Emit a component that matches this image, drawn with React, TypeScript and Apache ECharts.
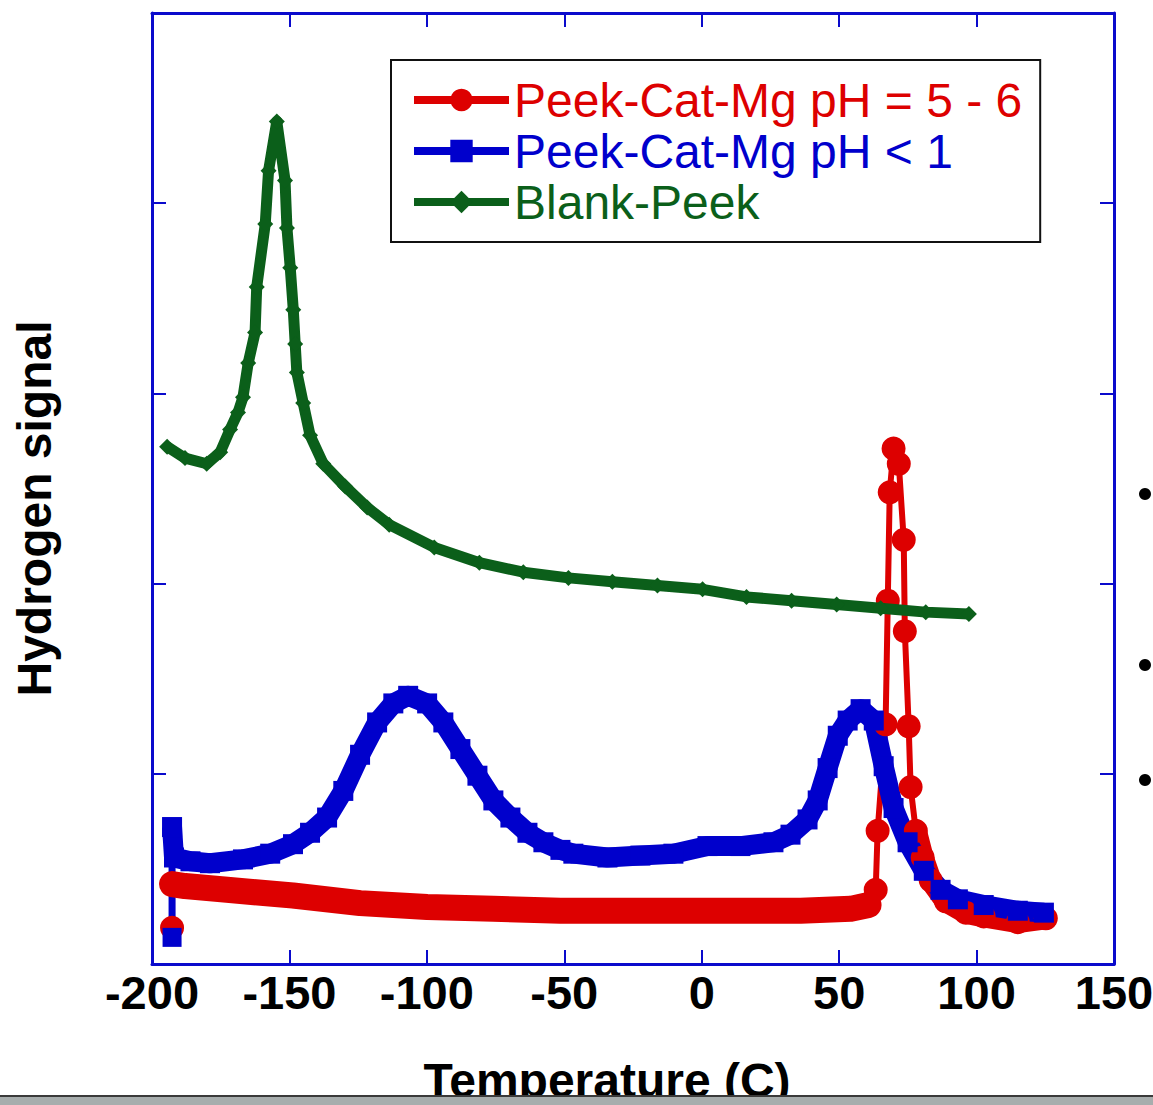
import React, { useEffect, useRef } from "react";
import * as echarts from "echarts";

// ---- axis ranges ----
const X_MIN = -200;
const X_MAX = 150;
const X_STEP = 50;
const Y_MIN = 0;
const Y_MAX = 5;
const Y_STEP = 1;

const X_TITLE = "Temperature (C)";
const Y_TITLE = "Hydrogen signal";

const seriesNames = ["Peek-Cat-Mg pH = 5 - 6", "Peek-Cat-Mg pH < 1", "Blank-Peek"];

// ---- Peek-Cat-Mg pH = 5 - 6 (red) ----
const redT = [
  -192.7, -192.7, -188.0, -172.7, -148.7, -124.3, -99.9, -75.8, -51.4, -22.3, 6.8, 36.0, 54.2, 60.7,
  63.3, 64.0, 66.9, 67.7, 68.4, 69.8, 71.7, 73.5, 73.9, 75.3, 76.0, 77.9, 80.4, 83.3, 88.8, 96.1,
  102.6, 115.0, 125.2,
];
const redV = [
  0.19, 0.42, 0.41, 0.39, 0.36, 0.32, 0.3, 0.29, 0.28, 0.28, 0.28, 0.28, 0.29, 0.31,
  0.39, 0.7, 1.26, 1.91, 2.48, 2.71, 2.63, 2.23, 1.75, 1.25, 0.93, 0.7, 0.56, 0.44, 0.33, 0.27,
  0.25, 0.22, 0.24,
];

// ---- Peek-Cat-Mg pH < 1 (blue) ----
const blueT = [
  -192.7, -192.7, -192.0, -186.0, -178.9, -166.9, -157.0, -148.7, -142.5, -136.3, -130.4, -124.3,
  -118.1, -112.2, -106.8, -99.9, -94.0, -87.8, -81.6, -75.8, -69.6, -63.4, -57.6, -51.4, -46.7,
  -34.3, -22.3, -10.3, 2.1, 14.1, 26.1, 32.3, 38.5, 42.2, 45.8, 49.5, 53.1, 57.8, 62.6, 66.2, 69.8,
  74.9, 80.8, 86.9, 93.2, 102.6, 115.0, 124.5,
];
const blueV = [
  0.14, 0.72, 0.56, 0.54, 0.53, 0.55, 0.58, 0.63, 0.69, 0.77, 0.91, 1.1,
  1.27, 1.37, 1.41, 1.37, 1.27, 1.13, 0.99, 0.86, 0.77, 0.69, 0.64, 0.6, 0.58,
  0.56, 0.57, 0.58, 0.62, 0.62, 0.64, 0.68, 0.76, 0.86, 1.03, 1.2, 1.28, 1.34, 1.28, 1.04, 0.82,
  0.64, 0.49, 0.39, 0.34, 0.31, 0.28, 0.27,
];

// ---- Blank-Peek (green) ----
const greenT = [
  -194.5, -188.0, -180.1, -175.2, -171.6, -168.7, -166.9, -165.0, -162.5, -161.9, -158.8, -157.6,
  -154.6, -151.6, -150.9, -149.7, -148.6, -147.9, -147.3, -145.0, -142.5, -137.7, -129.7, -121.7,
  -113.7, -97.3, -80.9, -64.9, -48.5, -32.5, -16.1, 0.3, 16.3, 32.7, 49.1, 65.1, 81.5, 97.2,
];
const greenV = [
  2.72, 2.66, 2.63, 2.69, 2.81, 2.9, 2.98, 3.16, 3.32, 3.56, 3.89, 4.17,
  4.43, 4.12, 3.87, 3.66, 3.44, 3.26, 3.11, 2.95, 2.78, 2.63, 2.51, 2.4,
  2.31, 2.19, 2.11, 2.06, 2.03, 2.01, 1.99, 1.97, 1.93, 1.91, 1.89, 1.87, 1.85, 1.84,
];

// ---- styling ----
const RED = "#dd0000";
const BLUE = "#0000cc";
const GREEN = "#0b5f1a";
const FRAME = "#0a0acc";
const FONT = "'Liberation Sans', Arial, Helvetica, sans-serif";

const pairs = (xs: number[], ys: number[], from = 0, to = xs.length) => {
  const out: number[][] = [];
  for (let i = from; i < to; i++) out.push([xs[i], ys[i]]);
  return out;
};

export default function App() {
  const ref = useRef<HTMLDivElement>(null);

  useEffect(() => {
    if (!ref.current) return;
    const chart = echarts.init(ref.current, null, { renderer: "svg" });

    const axisCommon = {
      axisLine: { show: true, onZero: false, lineStyle: { color: FRAME, width: 3 } },
      axisTick: { show: true, inside: true, length: 14, lineStyle: { color: FRAME, width: 2 } },
      splitLine: { show: false },
    };

    const option: any = {
      animation: false,
      backgroundColor: "#ffffff",
      textStyle: { fontFamily: FONT },
      grid: { left: 152, right: 39, top: 13, bottom: 141, outerBoundsMode: "none", containLabel: false },
      legend: {
        orient: "vertical",
        left: 391,
        top: 60,
        padding: [16, 18, 16, 19],
        itemGap: 3,
        itemWidth: 95,
        itemHeight: 28,
        borderColor: "#111111",
        borderWidth: 2,
        backgroundColor: "#ffffff",
        selectedMode: false,
        lineStyle: { width: 8 },
        textStyle: { fontSize: 48, fontFamily: FONT },
        data: [
          { name: seriesNames[0], textStyle: { color: RED } },
          { name: seriesNames[1], textStyle: { color: BLUE } },
          { name: seriesNames[2], textStyle: { color: GREEN } },
        ],
      },
      xAxis: [
        {
          type: "value",
          position: "bottom",
          min: X_MIN,
          max: X_MAX,
          interval: X_STEP,
          ...axisCommon,
          axisLabel: {
            show: true,
            margin: 5,
            fontSize: 47,
            fontWeight: "bold",
            color: "#000000",
            fontFamily: FONT,
          },
          name: X_TITLE,
          nameLocation: "middle",
          nameGap: 92,
          nameTextStyle: {
            fontSize: 48,
            fontWeight: "bold",
            color: "#000000",
            fontFamily: FONT,
            padding: [0, 52, 0, 0],
          },
        },
        {
          type: "value",
          position: "top",
          min: X_MIN,
          max: X_MAX,
          interval: X_STEP,
          ...axisCommon,
          axisLabel: { show: false },
        },
      ],
      yAxis: [
        {
          type: "value",
          position: "left",
          min: Y_MIN,
          max: Y_MAX,
          interval: Y_STEP,
          ...axisCommon,
          axisLabel: { show: false },
          name: Y_TITLE,
          nameLocation: "middle",
          nameGap: 94,
          nameTextStyle: {
            fontSize: 48,
            fontWeight: "bold",
            color: "#000000",
            fontFamily: FONT,
            padding: [0, 40, 0, 0],
          },
        },
        {
          type: "value",
          position: "right",
          min: Y_MIN,
          max: Y_MAX,
          interval: Y_STEP,
          ...axisCommon,
          axisLabel: { show: false },
        },
      ],
      series: [
        {
          name: seriesNames[0],
          type: "line",
          data: pairs(redT, redV),
          z: 2,
          symbol: "circle",
          symbolSize: 24,
          showSymbol: true,
          showAllSymbol: true,
          itemStyle: { color: RED },
          lineStyle: { color: RED, width: 6 },
          emphasis: { disabled: true },
        },
        {
          name: seriesNames[0],
          type: "line",
          data: pairs(redT, redV, 1, 14),
          z: 3,
          symbol: "none",
          itemStyle: { color: RED },
          lineStyle: { color: RED, width: 26, cap: "round", join: "round" },
          emphasis: { disabled: true },
        },
        {
          name: seriesNames[0],
          type: "line",
          data: pairs(redT, redV, 25),
          z: 2,
          symbol: "none",
          itemStyle: { color: RED },
          lineStyle: { color: RED, width: 22, cap: "round", join: "round" },
          emphasis: { disabled: true },
        },
        {
          name: seriesNames[1],
          type: "line",
          data: pairs(blueT, blueV, 0, 2),
          z: 2,
          symbol: "rect",
          symbolSize: 19,
          showAllSymbol: true,
          itemStyle: { color: BLUE },
          lineStyle: { color: BLUE, width: 7 },
          emphasis: { disabled: true },
        },
        {
          name: seriesNames[1],
          type: "line",
          data: pairs(blueT, blueV, 1),
          z: 2,
          symbol: "rect",
          symbolSize: 20,
          showAllSymbol: true,
          itemStyle: { color: BLUE },
          lineStyle: { color: BLUE, width: 20, join: "round" },
          emphasis: { disabled: true },
        },
        {
          name: seriesNames[2],
          type: "line",
          data: pairs(greenT, greenV),
          z: 4,
          symbol: "diamond",
          symbolSize: 16,
          showAllSymbol: true,
          itemStyle: { color: GREEN },
          lineStyle: { color: GREEN, width: 11, join: "round" },
          emphasis: { disabled: true },
        },
      ],
      graphic: [
        { type: "circle", shape: { cx: 1145, cy: 494, r: 6 }, style: { fill: "#000000" }, z: 10 },
        { type: "circle", shape: { cx: 1145, cy: 665, r: 6 }, style: { fill: "#000000" }, z: 10 },
        { type: "circle", shape: { cx: 1145, cy: 780, r: 6 }, style: { fill: "#000000" }, z: 10 },
        {
          type: "rect",
          shape: { x: 0, y: 1096, width: 1153, height: 9 },
          style: { fill: "#a7adad" },
          z: 100,
        },
        {
          type: "line",
          shape: { x1: 0, y1: 1096, x2: 1153, y2: 1096 },
          style: { stroke: "#3a3a3a", lineWidth: 2 },
          z: 101,
        },
      ],
    };

    chart.setOption(option);
    return () => chart.dispose();
  }, []);

  return (
    <div
      ref={ref}
      style={{ position: "absolute", left: 0, top: 0, width: 1153, height: 1105, background: "#fff" }}
    />
  );
}
